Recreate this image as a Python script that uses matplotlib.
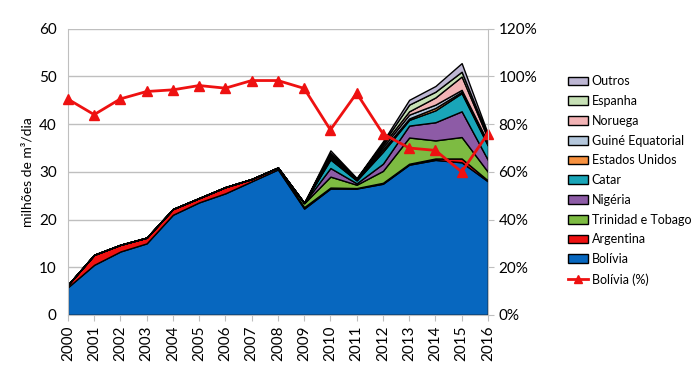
import matplotlib
matplotlib.use('Agg')
import matplotlib.pyplot as plt
from matplotlib.lines import Line2D
from matplotlib.patches import Patch

plt.rcParams['font.family'] = ['Lato', 'DejaVu Sans']

# anos e volumes importados (milhões de m3/dia)
anos = list(range(2000, 2017))
bolivia = [5.8, 10.5, 13.3, 15.0, 21.0, 23.6, 25.5, 28.0, 30.5, 22.3, 26.5, 26.5, 27.5, 31.5, 32.5, 32.0, 28.0]
argentina = [0.5, 2.1, 1.4, 1.2, 1.2, 0.9, 1.3, 0.5, 0.4, 0.3, 0.2, 0.1, 0.2, 0.2, 0.3, 0.8, 0.2]
trinidad = [0, 0, 0, 0, 0, 0, 0, 0, 0, 0.8, 2.3, 0.7, 2.5, 5.5, 3.8, 4.5, 1.8]
nigeria = [0, 0, 0, 0, 0, 0, 0, 0, 0, 0.1, 1.8, 0.3, 1.5, 2.5, 3.8, 5.4, 2.5]
catar = [0, 0, 0, 0, 0, 0, 0, 0, 0, 0, 1.8, 0.6, 2.5, 1.2, 2.5, 3.8, 3.0]
eua = [0, 0, 0, 0, 0, 0, 0, 0, 0, 0, 0.3, 0.1, 0.5, 0.3, 0.5, 0.3, 0.3]
guine = [0, 0, 0, 0, 0, 0, 0, 0, 0, 0, 0.4, 0.1, 0.5, 0.8, 0.7, 0.4, 0.4]
noruega = [0, 0, 0, 0, 0, 0, 0, 0, 0, 0, 0.4, 0.1, 0.5, 0.7, 1.5, 2.8, 0.8]
espanha = [0, 0, 0, 0, 0, 0, 0, 0, 0, 0, 0.3, 0.1, 0.3, 1.4, 1.2, 1.0, 0.5]
outros = [0, 0, 0, 0, 0, 0, 0, 0, 0, 0, 0.5, 0.1, 0.4, 1.0, 1.2, 1.8, 0.5]
bolivia_pct = [90.5, 84, 90.6, 93.7, 94.4, 96.2, 95.1, 98.3, 98.3, 95, 77.6, 93, 76, 70, 69, 60, 76]

nomes = ['Bolívia', 'Argentina', 'Trinidad e Tobago', 'Nigéria', 'Catar',
         'Estados Unidos', 'Guiné Equatorial', 'Noruega', 'Espanha', 'Outros']
cores = ['#0767bf', '#ee1111', '#7dbb42', '#8d5ba6', '#19a5b8',
         '#f7913f', '#b4c7dc', '#f2b3b5', '#c6e0b5', '#bdb6d3']
series = [bolivia, argentina, trinidad, nigeria, catar, eua, guine, noruega, espanha, outros]

fig = plt.figure(figsize=(7, 3.84), dpi=100)
ax = fig.add_axes([0.097, 0.18, 0.6, 0.745])

#areas empilhadas
ax.stackplot(anos, *series, colors=cores, edgecolor='black', linewidth=1.0)
ax.set_xlim(2000, 2016)
ax.set_ylim(0, 60)
ax.set_yticks(range(0, 61, 10))
ax.set_xticks(anos)
ax.set_xticklabels([str(a) for a in anos], rotation=90)
ax.set_axisbelow(True)
ax.grid(axis='y', color='#bfbfbf', linewidth=1)
ax.set_ylabel('milhões de m³/dia', fontsize=10)
for s in ['top', 'right']:
    ax.spines[s].set_visible(False)
for s in ['left', 'bottom']:
    ax.spines[s].set_color('#bfbfbf')
ax.tick_params(axis='y', length=0, labelsize=11, pad=8)
ax.tick_params(axis='x', length=4, color='#bfbfbf', labelsize=11)

#linha da participacao da Bolivia
ax2 = ax.twinx()
ax2.plot(anos, bolivia_pct, color='#ee1111', linewidth=2, marker='^', markersize=7, clip_on=False)
ax2.set_ylim(0, 120)
ax2.set_yticks(range(0, 121, 20))
ax2.set_yticklabels([f'{v}%' for v in range(0, 121, 20)])
ax2.tick_params(axis='y', length=4, color='#bfbfbf', labelsize=11)
for s in ['top', 'left', 'bottom']:
    ax2.spines[s].set_visible(False)
ax2.spines['right'].set_color('#bfbfbf')

#legenda
handles = [Patch(facecolor=c, edgecolor='black', label=n) for n, c in zip(nomes, cores)][::-1]
handles.append(Line2D([0], [0], color='#ee1111', linewidth=2, marker='^', markersize=6, label='Bolívia (%)'))
fig.legend(handles=handles, loc='center left', bbox_to_anchor=(0.795, 0.53), frameon=False,
           fontsize=9, labelspacing=0.62, handlelength=1.6, handleheight=0.7, handletextpad=0.3)

fig.savefig('out.png', dpi=100)
